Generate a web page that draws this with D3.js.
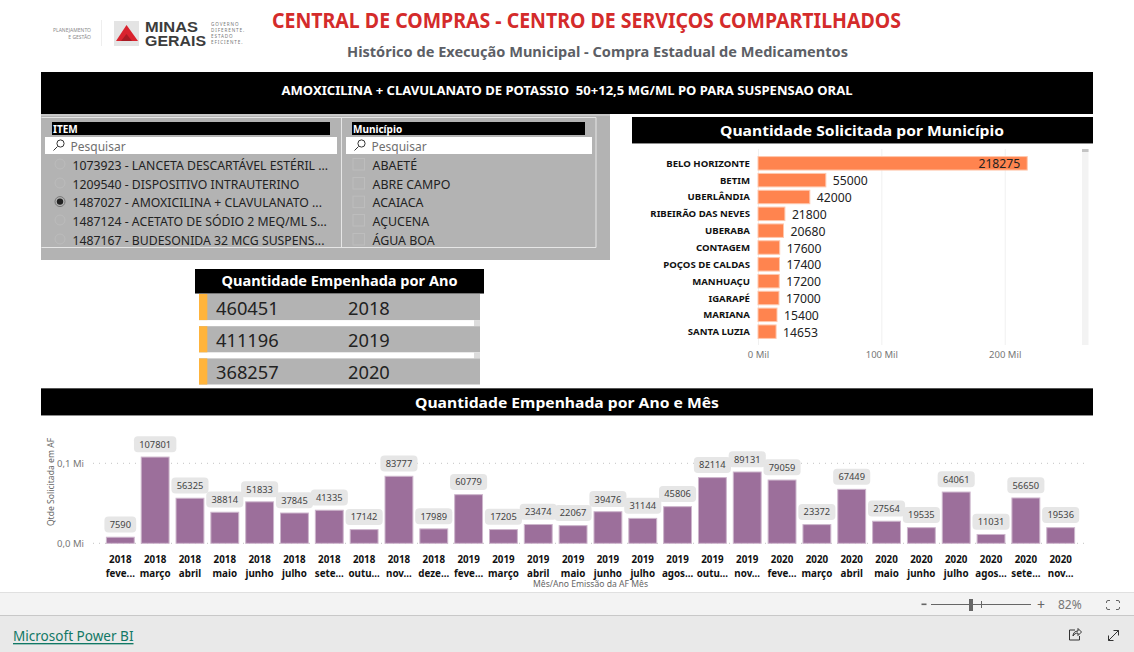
<!DOCTYPE html>
<html><head><meta charset="utf-8">
<script src="https://cdn.jsdelivr.net/npm/d3@7"></script>
<style>
html,body{margin:0;padding:0;background:#fff;overflow:hidden}
svg{display:block}
text{font-family:"Noto Sans","Open Sans",sans-serif;white-space:pre}
</style></head><body>
<svg id="c" width="1134" height="652"></svg>
<script>
const mainTitle = "CENTRAL DE COMPRAS - CENTRO DE SERVIÇOS COMPARTILHADOS";
const subTitle = "Histórico de Execução Municipal - Compra Estadual de Medicamentos";
const itemTitle = "AMOXICILINA + CLAVULANATO DE POTASSIO  50+12,5 MG/ML PO PARA SUSPENSAO ORAL";
const itemOptions = ["1073923 - LANCETA DESCARTÁVEL ESTÉRIL ...","1209540 - DISPOSITIVO INTRAUTERINO","1487027 - AMOXICILINA + CLAVULANATO ...","1487124 - ACETATO DE SÓDIO 2 MEQ/ML S...","1487167 - BUDESONIDA 32 MCG SUSPENS..."];
const selectedItem = 2;
const townOptions = ["ABAETÉ","ABRE CAMPO","ACAIACA","AÇUCENA","ÁGUA BOA"];
const towns = ["BELO HORIZONTE","BETIM","UBERLÂNDIA","RIBEIRÃO DAS NEVES","UBERABA","CONTAGEM","POÇOS DE CALDAS","MANHUAÇU","IGARAPÉ","MARIANA","SANTA LUZIA"];
const townQty = [218275,55000,42000,21800,20680,17600,17400,17200,17000,15400,14653];
const years = [2018,2019,2020];
const yearQty = [460451,411196,368257];
const monthYears = ["2018","2018","2018","2018","2018","2018","2018","2018","2018","2018","2019","2019","2019","2019","2019","2019","2019","2019","2019","2020","2020","2020","2020","2020","2020","2020","2020","2020"];
const monthNames = ["feve...","março","abril","maio","junho","julho","sete...","outu...","nov...","deze...","feve...","março","abril","maio","junho","julho","agos...","outu...","nov...","feve...","março","abril","maio","junho","julho","agos...","sete...","nov..."];
const monthQty = [7590,107801,56325,38814,51833,37845,41335,17142,83777,17989,60779,17205,23474,22067,39476,31144,45806,82114,89131,79059,23372,67449,27564,19535,64061,11031,56650,19536];

const svg = d3.select("#c");
const rect=(x,y,w,h,f,p)=>{const r=(p||svg).append("rect").attr("x",x).attr("y",y).attr("width",w).attr("height",h).attr("fill",f);return r;};
const txt=(x,y,s,size,col,opt={},p)=>{const t=(p||svg).append("text").attr("x",x).attr("y",y).attr("dominant-baseline","central").attr("font-size",size).attr("fill",col).attr("text-anchor",opt.a||"start").attr("font-weight",opt.w||400).text(s);
 if(opt.ls)t.attr("letter-spacing",opt.ls); if(opt.tl)t.attr("textLength",opt.tl).attr("lengthAdjust","spacingAndGlyphs"); if(opt.f)t.style("font-family",opt.f); return t;};
const line=(x1,y1,x2,y2,c,w=1)=>svg.append("line").attr("x1",x1).attr("y1",y1).attr("x2",x2).attr("y2",y2).attr("stroke",c).attr("stroke-width",w);

// header
txt(586.5,19.5,mainTitle,20.5,"#d42b2b",{a:"middle",w:700,tl:629});
txt(597.5,51.5,subTitle,14.3,"#5d5f66",{a:"middle",w:700,tl:501});
// logo
txt(91,30,"PLANEJAMENTO",5,"#8a8a8a",{a:"end"});
txt(91,36.5,"E GESTÃO",5,"#8a8a8a",{a:"end"});
line(101.5,20,101.5,46,"#eeeeee");
rect(114,21,25,25,"#e4e4e4");
svg.append("path").attr("d","M126.5 25 L138 41 L116 41 Z").attr("fill","#d9232e");
svg.append("path").attr("d","M126.5 34 L132 41 L121 41 Z").attr("fill","#a81b24");
txt(145,27,"MINAS",14.5,"#3c3c3c",{w:700,tl:53,f:'"Liberation Sans"'});
txt(145,41,"GERAIS",14.5,"#3c3c3c",{w:700,tl:61,f:'"Liberation Sans"'});
["GOVERNO","DIFERENTE.","ESTADO","EFICIENTE."].forEach((s,i)=>txt(211,23.5+i*6.3,s,4.6,"#777",{ls:0.9}));

// item band
rect(41,72,1052,42,"#000");
txt(567,90.5,itemTitle,12,"#fff",{a:"middle",w:700,tl:571});

// slicer panel
rect(41,114,569,146,"#b3b3b3");
rect(41,114,569,2,"#c8c8c8");
svg.append("path").attr("d","M41.5 117.5H596V247.5H41.5 M341.5 117.5V247.5").attr("fill","none").attr("stroke","#e6e6e6");
rect(52,122,278,13,"#000"); rect(352,122,233,13,"#000");
txt(53,129,"ITEM",10,"#fff",{w:700});
txt(353,129,"Município",10,"#fff",{w:700});
[[45,292],[346,246]].forEach(([x,w])=>{
 rect(x,137,w,17,"#fff");
 svg.append("circle").attr("cx",x+15.5).attr("cy",143.5).attr("r",3.6).attr("fill","none").attr("stroke","#333");
 line(x+12.5,146.5,x+8.5,150.5,"#333");
 txt(x+25.5,146,"Pesquisar",12,"#6f6f6f");
});
const rowY=[165,184,202.6,221,240];
itemOptions.forEach((s,i)=>{
 svg.append("circle").attr("cx",60).attr("cy",rowY[i]-1).attr("r",5).attr("fill","none").attr("stroke",i==selectedItem?"#777":"#bcbcbc");
 if(i==selectedItem)svg.append("circle").attr("cx",60).attr("cy",rowY[i]-1).attr("r",3.2).attr("fill","#222");
 txt(72.5,rowY[i],s,12.25,"#222");
});
townOptions.forEach((s,i)=>{
 rect(353,rowY[i]-6.5,11.5,11.5,"none").attr("stroke","#bdbdbd");
 txt(372.5,rowY[i],s,12.4,"#222");
});

// Quantidade Solicitada por Municipio
rect(632,117,461,26,"#000"); rect(632,143,461,1,"#8c8c8c");
txt(862,129.5,"Quantidade Solicitada por Município",14.5,"#fff",{a:"middle",w:700,tl:284});
const xT=d3.scaleLinear().domain([0,200000]).range([758,1004.7]);
const yT=d3.scaleBand().domain(towns).range([154.9,340.1]).paddingInner(0.2).paddingOuter(0.1);
const gx=svg.append("g").attr("transform","translate(0,345)").call(d3.axisBottom(xT).tickValues([0,100000,200000]).tickSize(-196).tickFormat(d=>d/1000+" Mil"));
gx.select(".domain").remove();
gx.selectAll(".tick line").attr("stroke","#f0f0f0");
gx.selectAll(".tick text").attr("font-size",9.5).attr("fill","#777").attr("font-family",'"Noto Sans"').attr("y",10).attr("dy",".3em");
rect(1082,149,6.5,196,"#f3f3f3"); rect(1082,149,6.5,3,"#c4c4c4");
svg.selectAll(".tb").data(towns).join("rect").attr("class","tb")
 .attr("x",xT(0)).attr("y",d=>yT(d)).attr("width",(d,i)=>xT(townQty[i])-xT(0)).attr("height",yT.bandwidth())
 .attr("fill","#ff844f").attr("stroke","#ffc7ad").attr("stroke-width",1);
svg.selectAll(".tl").data(towns).join("text").attr("class","tl")
 .attr("x",750).attr("y",d=>yT(d)+yT.bandwidth()/2).attr("dominant-baseline","central").attr("text-anchor","end")
 .attr("font-size",9.6).attr("font-weight",700).attr("fill","#111").text(d=>d);
svg.selectAll(".tv").data(towns).join("text").attr("class","tv")
 .attr("x",(d,i)=>i==0?xT(townQty[i])-7:xT(townQty[i])+7).attr("y",d=>yT(d)+yT.bandwidth()/2+.5).attr("dominant-baseline","central")
 .attr("text-anchor",(d,i)=>i==0?"end":"start").attr("font-size",12.2).attr("fill","#222").text((d,i)=>townQty[i]);

// Quantidade Empenhada por Ano
rect(195,269,289,24,"#000"); rect(195,293,289,1,"#777");
txt(339.5,280.5,"Quantidade Empenhada por Ano",13.5,"#fff",{a:"middle",w:700,tl:236});
const yY=d3.scaleBand().domain(years).range([294,384.5]).paddingInner(0.19).paddingOuter(0);
years.forEach((y,i)=>{
 const top=yY(y),h=yY.bandwidth();
 rect(199,top,281,h,"#b3b3b3");
 rect(199,top,8.3,h,"#ffb43c");
 if(i<2)rect(474,top+h,6,yY.step()-h,"#dcdcdc");
 txt(216,top+h/2,yearQty[i],18.3,"#222");
 txt(348,top+h/2,y,18.3,"#222");
});

// Quantidade Empenhada por Ano e Mes
rect(41,388,1052,1,"#555");
rect(41,389,1052,26,"#000"); rect(41,415,1052,1,"#8c8c8c");
txt(567,401.5,"Quantidade Empenhada por Ano e Mês",14.5,"#fff",{a:"middle",w:700,tl:304});
const idx=monthQty.map((d,i)=>i);
const xM=d3.scaleBand().domain(idx).range([102.9,1078.1]).paddingInner(0.2).paddingOuter(0.1);
const yM=d3.scaleLinear().domain([0,100000]).range([543.3,463.3]);
const gy=svg.append("g").attr("transform","translate(84,0)").call(d3.axisLeft(yM).tickValues([0,100000]).tickSize(0).tickPadding(0).tickFormat(d=>(d/1000000).toFixed(1).replace(".",",")+" Mi"));
gy.select(".domain").remove();
gy.selectAll("text").attr("font-size",9.5).attr("fill","#777").attr("font-family",'"Noto Sans"');
[0,100000].forEach(v=>line(93,yM(v),1086,yM(v),"#c4c4c4").attr("stroke-dasharray","1 5"));
svg.append("text").attr("transform","translate(51,482) rotate(-90)").attr("text-anchor","middle").attr("dominant-baseline","central").attr("font-size",8.6).attr("fill","#666").text("Qtde Solicitada em AF");
svg.selectAll(".mb").data(monthQty).join("rect").attr("class","mb")
 .attr("x",(d,i)=>xM(i)).attr("y",d=>yM(d)).attr("width",xM.bandwidth()).attr("height",d=>yM(0)-yM(d))
 .attr("fill","#9c6f9b").attr("stroke","#cdb6cc").attr("stroke-width",1);
monthQty.forEach((d,i)=>{
 const g=svg.append("g"), cy=yM(d)-12.7, cx=xM(i)+xM.bandwidth()/2;
 const r=g.append("rect").attr("y",cy-8).attr("height",16).attr("rx",4).attr("fill","#e6e6e6");
 const t=txt(cx,cy,d,9.3,"#444",{a:"middle"},g);
 const w=t.node().getComputedTextLength()+10.5;
 r.attr("x",cx-w/2).attr("width",w);
});
const gm=svg.append("g").attr("transform","translate(0,552)").call(d3.axisBottom(xM).tickSize(0).tickPadding(0).tickFormat(()=> ""));
gm.select(".domain").remove();
gm.selectAll(".tick text").each(function(d){
 const t=d3.select(this).attr("dy",null).attr("y",null).attr("font-size",9.8).attr("font-weight",700).attr("fill","#111").attr("font-family",'"Noto Sans"');
 t.append("tspan").attr("x",0).attr("y",7).attr("dominant-baseline","central").text(monthYears[d]);
 t.append("tspan").attr("x",0).attr("y",21).attr("dominant-baseline","central").text(monthNames[d]);
});
txt(590.5,584,"Mês/Ano Emissão da AF Mês",8.6,"#666",{a:"middle"});

// Power BI chrome
rect(0,592,1134,23,"#f3f3f3"); rect(0,592,1134,1,"#e0e0e0");
rect(0,615,1134,37,"#e9e9e9"); rect(0,615,1134,1,"#c8c8c8");
rect(921.5,603.5,5,1.6,"#666");
line(931,604.5,1031,604.5,"#666");
rect(969,599,4,12,"#666"); line(981.5,601,981.5,608,"#666");
txt(1041,604,"+",14,"#666",{a:"middle"});
txt(1058,604.5,"82%",12,"#777");
svg.append("rect").attr("x",1106.5).attr("y",600.5).attr("width",13).attr("height",9).attr("rx",1.5).attr("fill","none").attr("stroke","#666");
rect(1110,599,6,3,"#f3f3f3"); rect(1110,608,6,3,"#f3f3f3");rect(1105,603,3,4,"#f3f3f3");rect(1118,603,3,4,"#f3f3f3");
txt(13,636,"Microsoft Power BI",13.55,"#117865",{}).attr("text-decoration","underline");
svg.append("path").attr("d","M1075 630h-5.5v10h10v-4 M1073 636c0-3 2-5 5-5v-2.5l3.5 3.5-3.5 3.5v-2.5c-2 0-4 1-5 3").attr("fill","none").attr("stroke","#333");
svg.append("path").attr("d","M1108.500 640.500L1118.500 630.500M1113.500 630.500h5v5M1108.500 635.500v5h5").attr("fill","none").attr("stroke","#333");
</script></body></html>
